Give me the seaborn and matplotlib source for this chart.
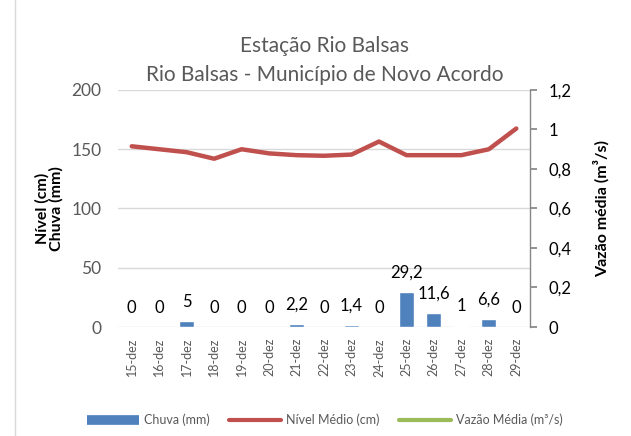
import numpy as np
import pandas as pd
import matplotlib
matplotlib.use("Agg")
import matplotlib.pyplot as plt
from matplotlib.lines import Line2D
import seaborn as sns

# dados da estação
dias = ["15-dez", "16-dez", "17-dez", "18-dez", "19-dez", "20-dez", "21-dez", "22-dez",
        "23-dez", "24-dez", "25-dez", "26-dez", "27-dez", "28-dez", "29-dez"]
chuva = [0, 0, 5, 0, 0, 0, 2.2, 0, 1.4, 0, 29.2, 11.6, 1, 6.6, 0]
nivel = [152.5, 150, 147.5, 142, 150, 146.5, 145, 144.5, 145.5, 156.5, 145, 145, 145, 150, 167.5]
rotulos_chuva = ["0", "0", "5", "0", "0", "0", "2,2", "0", "1,4", "0", "29,2", "11,6", "1", "6,6", "0"]
ticks_esq = [0, 50, 100, 150, 200]
ticks_dir = [0, 0.2, 0.4, 0.6, 0.8, 1.0, 1.2]
rotulos_dir = ["0", "0,2", "0,4", "0,6", "0,8", "1", "1,2"]

sns.set_theme(style="white")
plt.rcParams['font.family'] = ['Lato', 'DejaVu Sans']

azul = "#4f81bd"
vermelho = "#c0504d"
verde = "#9bbb59"
cinza = "#595959"

df = pd.DataFrame({"dia": dias, "chuva": chuva, "nivel": nivel})

fig = plt.figure(figsize=(6.31, 4.36), dpi=100)
ax = fig.add_axes([0.187, 0.25, 0.653, 0.5436])

sns.barplot(data=df, x="dia", y="chuva", color=azul, width=0.55, saturation=1, ax=ax)
sns.lineplot(x=np.arange(len(dias)), y=df["nivel"], color=vermelho, linewidth=3.2, ax=ax)

ax.set_ylim(0, 200)
ax.set_xlim(-0.5, len(dias) - 0.5)
ax.set_yticks(ticks_esq)
ax.set_yticklabels([str(t) for t in ticks_esq], color=cinza, fontsize=12.5)
ax.set_xticks(np.arange(len(dias)))
ax.set_xticklabels(dias, rotation=90, color=cinza, fontsize=9)
ax.tick_params(axis="x", length=0, pad=8)
ax.tick_params(axis="y", length=0, pad=12)
ax.grid(axis="y", color="#d9d9d9", linewidth=1)
ax.set_axisbelow(True)
for s in ax.spines.values():
    s.set_visible(False)
ax.set_xlabel("")
ax.set_ylabel("Nível (cm)\nChuva (mm)", fontsize=11.5, fontweight="bold", color="black",
              linespacing=1.0)
ax.yaxis.set_label_coords(-0.132, 0.5)

# rótulos das barras
for i, (v, r) in enumerate(zip(chuva, rotulos_chuva)):
    ax.annotate(r, (i, v), xytext=(0, 14), textcoords="offset points",
                ha="center", va="center", fontsize=12, color="black")

# eixo secundário (vazão)
ax2 = ax.twinx()
ax2.set_ylim(0, 1.2)
ax2.set_yticks(ticks_dir)
ax2.set_yticklabels(rotulos_dir, fontsize=12, color="black")
for s in ["top", "left", "bottom"]:
    ax2.spines[s].set_visible(False)
ax2.spines["right"].set_color("#868686")
ax2.spines["right"].set_linewidth(1)
ax2.tick_params(axis="y", direction="out", length=5, color="#868686", pad=8, right=True)
ax2.set_ylabel("Vazão média (m³/s)", fontsize=11.5, fontweight="bold", color="black", labelpad=16)

fig.text(0.515, 0.895, "Estação Rio Balsas", ha="center", va="center", fontsize=15, color=cinza)
fig.text(0.515, 0.828, "Rio Balsas - Município de Novo Acordo", ha="center", va="center",
         fontsize=15, color=cinza)

handles = [
    Line2D([], [], color=azul, linewidth=7, solid_capstyle="butt"),
    Line2D([], [], color=vermelho, linewidth=3, solid_capstyle="round"),
    Line2D([], [], color=verde, linewidth=3, solid_capstyle="round"),
]
fig.legend(handles, ["Chuva (mm)", "Nível Médio (cm)", "Vazão Média (m³/s)"],
           loc="center", bbox_to_anchor=(0.515, 0.037), ncol=3, frameon=False,
           fontsize=9, labelcolor=cinza, handlelength=4.2, columnspacing=1.5, handletextpad=0.4)

# moldura à esquerda
fig.add_artist(Line2D([0.024, 0.024], [0, 1], color="#d9d9d9", linewidth=1, transform=fig.transFigure))

fig.savefig("out.png", dpi=100)
